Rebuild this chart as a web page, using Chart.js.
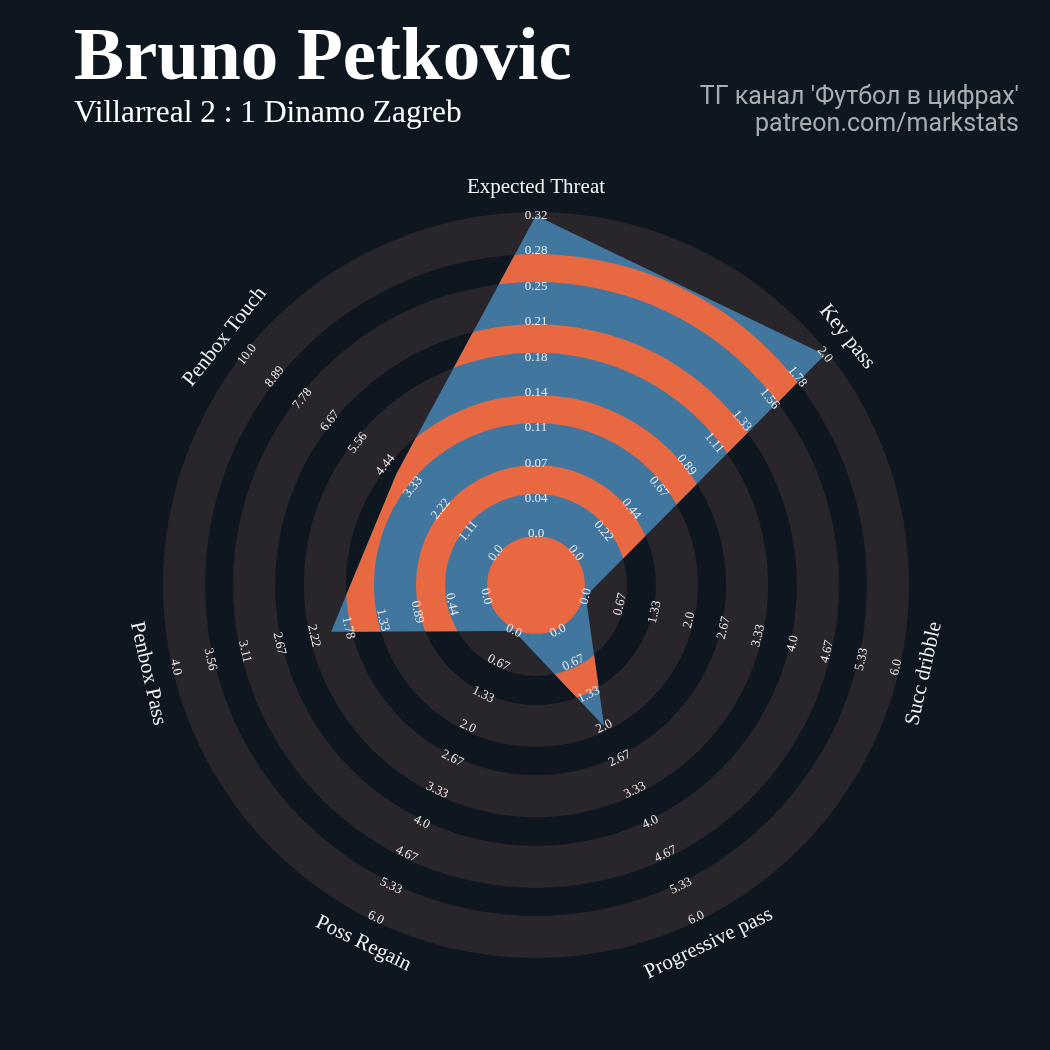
<!DOCTYPE html>
<html>
<head>
<meta charset="utf-8">
<script src="https://cdn.jsdelivr.net/npm/chart.js@4/dist/chart.umd.min.js"></script>
<style>
  html, body { margin: 0; padding: 0; background: #0e1720; }
  #wrap { position: relative; width: 1050px; height: 1050px; overflow: hidden; }
  #radar { position: absolute; left: 0; top: 0; }
  .title { position: absolute; left: 74px; top: 16px; font: bold 75px 'Liberation Serif', serif; line-height: 75px; color: #ffffff; white-space: nowrap; }
  .subtitle { position: absolute; left: 74px; top: 96px; font: 31.4px 'Liberation Serif', serif; line-height: 31px; color: #ffffff; white-space: nowrap; }
  .credits { position: absolute; right: 31px; top: 82px; font: 25px Roboto, sans-serif; line-height: 27px; color: #a9acb0; text-align: right; white-space: nowrap; }
</style>
</head>
<body>
<div id="wrap">
  <canvas id="radar" width="1050" height="1050"></canvas>
  <div class="title">Bruno Petkovic</div>
  <div class="subtitle">Villarreal 2 : 1 Dinamo Zagreb</div>
  <div class="credits">ТГ канал 'Футбол в цифрах'<br>patreon.com/markstats</div>
</div>
<script>
// ---------------------------------------------------- data ----------------------------------------------------
const params = ['Expected Threat', 'Key pass', 'Succ dribble', 'Progressive pass', 'Poss Regain', 'Penbox Pass', 'Penbox Touch'];
const lowRange = [0, 0, 0, 0, 0, 0, 0];
const highRange = [0.32, 2, 6, 6, 6, 4, 10];
const playerValues = [0.32, 2, 0, 2, 0, 2, 4];

// ---------------------------------------------------- style ---------------------------------------------------
const BG = '#0e1720';
const RING = '#28252b';
const BLUE = '#41769f';
const ORANGE = '#e86842';
const STEPS = 9; // 10 range labels on every axis
// ring edges, in label steps (0 = lowest label, 9 = highest)
const ringEdges = [-0.06, 1.13, 1.95, 3.14, 3.93, 5.12, 5.93, 7.12, 7.91, 9.1];

function fmt(v) {
    const r = Math.round(v * 100) / 100;
    return Number.isInteger(r) ? r.toFixed(1) : String(r);
}
const tickLabels = params.map((p, i) => {
    const out = [];
    for (let k = 0; k <= STEPS; k++) out.push(fmt(lowRange[i] + (highRange[i] - lowRange[i]) * k / STEPS));
    return out;
});
const scaled = playerValues.map((v, i) => Math.min(STEPS, (v - lowRange[i]) / (highRange[i] - lowRange[i]) * STEPS));

function annulus(ctx, s, from, to) {
    const r0 = s.getDistanceFromCenterForValue(from);
    const r1 = s.getDistanceFromCenterForValue(to);
    ctx.beginPath();
    ctx.arc(s.xCenter, s.yCenter, r1, 0, Math.PI * 2);
    if (r0 > 0) ctx.arc(s.xCenter, s.yCenter, r0, 0, Math.PI * 2, true);
    ctx.fill();
}

function rotatedText(ctx, text, x, y, rot) {
    ctx.save();
    ctx.translate(x, y);
    ctx.rotate(rot);
    ctx.fillText(text, 0, 0);
    ctx.restore();
}

const ringsPlugin = {
    id: 'rings',
    beforeDatasetsDraw(chart) {
        const ctx = chart.ctx;
        const s = chart.scales.r;
        ctx.save();
        ctx.fillStyle = RING;
        for (let i = 0; i < ringEdges.length; i += 2) annulus(ctx, s, ringEdges[i], ringEdges[i + 1]);
        ctx.restore();
    },
    afterDatasetsDraw(chart) {
        const ctx = chart.ctx;
        const s = chart.scales.r;
        const pts = chart.getDatasetMeta(0).data;

        // orange bands, only inside the player polygon
        ctx.save();
        ctx.beginPath();
        pts.forEach((p, i) => i ? ctx.lineTo(p.x, p.y) : ctx.moveTo(p.x, p.y));
        ctx.closePath();
        ctx.clip();
        ctx.fillStyle = ORANGE;
        annulus(ctx, s, s.min, ringEdges[0]);
        for (let i = 1; i < ringEdges.length - 1; i += 2) annulus(ctx, s, ringEdges[i], ringEdges[i + 1]);
        ctx.restore();

        // range labels + param names, turned along the circle
        const step = Math.PI * 2 / params.length;
        ctx.save();
        ctx.textAlign = 'center';
        ctx.textBaseline = 'middle';
        params.forEach((name, i) => {
            const theta = i * step;
            const rot = (theta > Math.PI / 2 && theta < Math.PI * 1.5) ? theta - Math.PI : theta;
            ctx.fillStyle = '#ececec';
            ctx.font = "13px 'Liberation Serif', serif";
            tickLabels[i].forEach((t, k) => {
                const pos = s.getPointPosition(i, s.getDistanceFromCenterForValue(k));
                rotatedText(ctx, t, pos.x, pos.y, rot);
            });
            ctx.fillStyle = '#f2f2f2';
            ctx.font = "21px 'Liberation Serif', serif";
            const pos = s.getPointPosition(i, s.drawingArea + 25);
            rotatedText(ctx, name, pos.x, pos.y, rot);
        });
        ctx.restore();
    }
};

new Chart(document.getElementById('radar').getContext('2d'), {
    type: 'radar',
    data: {
        labels: params,
        datasets: [{
            data: scaled,
            backgroundColor: BLUE,
            borderWidth: 0,
            pointRadius: 0,
            fill: 'start'
        }]
    },
    options: {
        responsive: false,
        animation: false,
        layout: { padding: { left: 163, top: 212, right: 141, bottom: 92 } },
        plugins: { legend: { display: false }, tooltip: { enabled: false } },
        scales: {
            r: {
                min: -1.441,
                max: 9.1,
                grid: { display: false },
                angleLines: { display: false },
                pointLabels: { display: false },
                ticks: { display: false }
            }
        }
    },
    plugins: [ringsPlugin]
});
</script>
</body>
</html>
